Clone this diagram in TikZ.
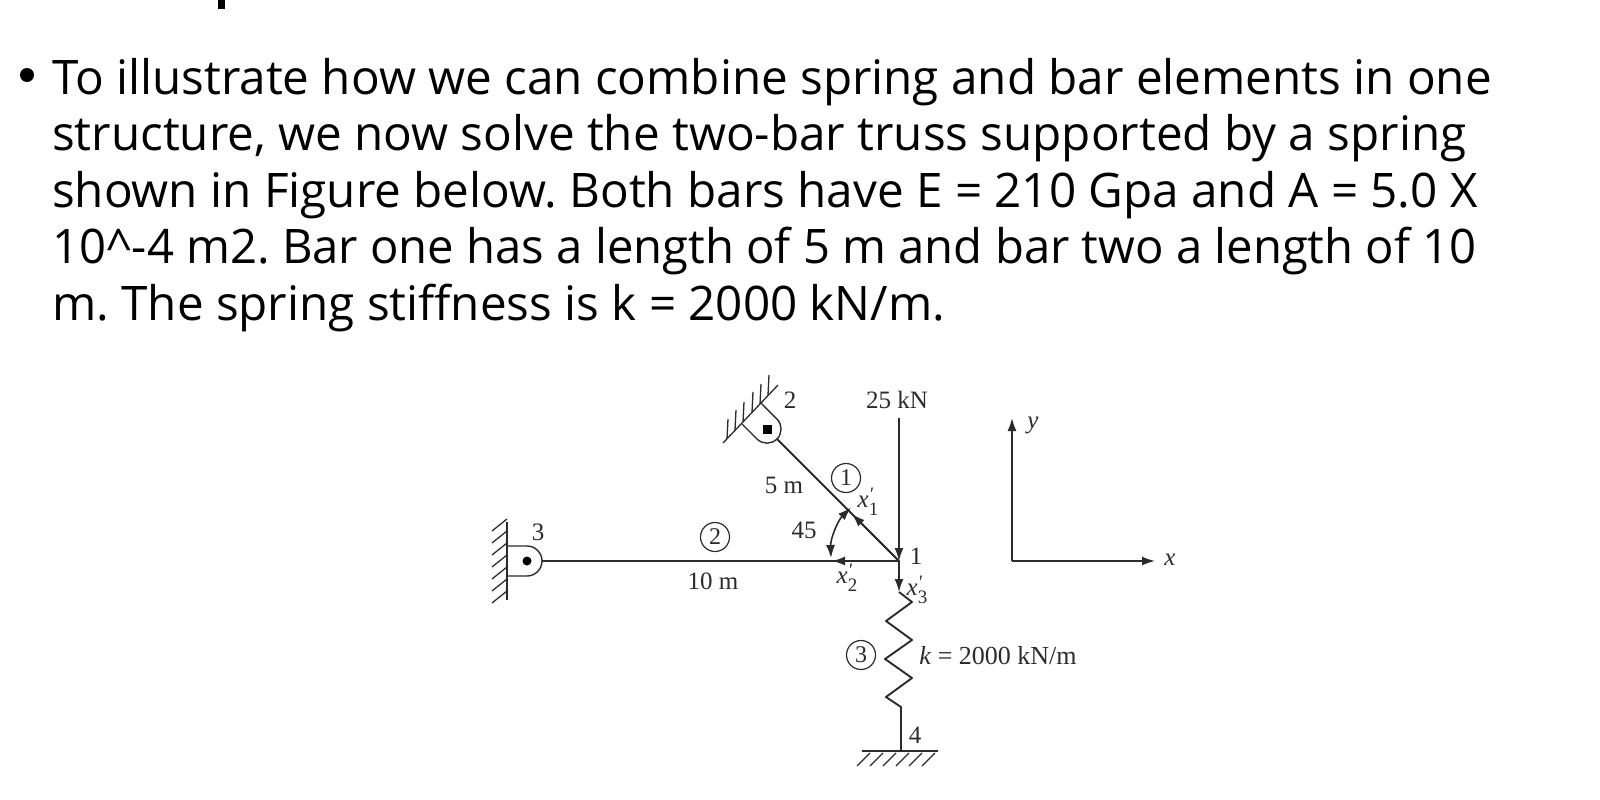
\documentclass[tikz,border=0pt]{standalone}
\usepackage{fontspec}
\usetikzlibrary{arrows.meta}
\setmainfont{Liberation Serif}
\newfontfamily\bodyfont{Open Sans}
\definecolor{ink}{HTML}{2B2B2B}
\newcommand{\xprime}[1]{\textit{x}\rlap{\smash{\raisebox{.3em}{\fontsize{19}{20}\selectfont\textit{\textquotesingle}}}}\smash{\raisebox{-.3em}{\fontsize{19}{20}\selectfont #1}}}
\tikzset{
 x=1pt,y=-1pt,
 bodyline/.style={anchor=base west,inner sep=0,font=\bodyfont\fontsize{47.6}{50}\selectfont\frenchspacing,text=black},
 lab/.style={inner sep=0,font=\fontsize{25}{28}\selectfont,text=ink},
 tiny lab/.style={inner sep=0,font=\fontsize{25}{25}\selectfont,text=ink,text height=9pt,text depth=0pt},
 mem/.style={line width=1.9pt,draw=ink},
 thin member/.style={line width=1.4pt,draw=ink},
 hatch/.style={line width=1.3pt,draw=ink},
 load/.style={line width=1.6pt,draw=ink,-{Latex[length=13pt,width=9pt]}},
 both load/.style={line width=1.6pt,draw=ink,{Latex[length=13pt,width=9pt]}-{Latex[length=13pt,width=9pt]}},
 circ/.style={circle,draw=ink,line width=1.2pt,inner sep=0,minimum size=29pt,font=\fontsize{24}{26}\selectfont,text=ink},
}
\begin{document}
\begin{tikzpicture}
\useasboundingbox (0,0) rectangle (1600,800);
\fill[black] (218,0) rectangle (225,9);
\fill[black] (27,75) circle (7);
\node[bodyline] (l1) at (52,94) {To illustrate how we can combine spring and bar elements in one};
\node[bodyline] (l2) at (52,150.5) {structure, we now solve the two-bar truss supported by a spring};
\node[bodyline] (l3) at (52,207) {shown in Figure below. Both bars have E = 210 Gpa and A = 5.0 X};
\node[bodyline,xscale=.992,transform shape] (l4) at (52,263.5) {10\^{}-4 m2. Bar one has a length of 5 m and bar two a length of 10};
\node[bodyline] (l5) at (52,320) {m. The spring stiffness is k = 2000 kN/m.};
% joints
\coordinate (n1) at (899,561);
\coordinate (n2) at (777,439);
\coordinate (n3) at (542,561);
\coordinate (n4) at (901,751);
% bars
\draw[mem] (n2) -- (n1);
\draw[mem] (n3) -- (n1);
% support 2
\draw[hatch] (723,443) -- (778,385);
\foreach \a/\b in {727/439,735/430,743/422,752/412,760/404,768/395}
  \draw[hatch] (\a,\b) -- ++(1,-20);
\draw[thin member] (742,424) -- (757,439) arc[start angle=135,end angle=-45,radius=14.1] -- (761,403);
\fill[black] (762.5,425) rectangle (771.5,434);
% support 3
\draw[hatch] (507,522) -- (507,600);
\foreach \b in {526,538,550,562,574,586,598}
  \draw[hatch] (507,\b-7) -- ++(-15,12);
\draw[thin member] (507,546) -- (527,546) arc[start angle=-90,end angle=90,radius=15] -- (507,576);
\fill[black] (527,561) circle (4.5);
% spring and ground
\coordinate (s0) at (899,592);
\draw[mem,line join=round] (s0) -- (912,602) -- (886,621) -- (912,640) -- (885,659) -- (912,678) -- (886,697) -- (901,707) -- (n4);
\draw[mem] (862,751) -- (938,751);
\foreach \a in {873,886,899,912,925,938}
  \draw[hatch] (\a-3,753) -- ++(-13,13);
% loads
\coordinate (f0) at (899,418);
\draw[load] (f0) -- (n1);
\draw[load] (n1) -- (s0);
\coordinate (t2) at (832,561);
\draw[load] (n1) -- (t2);
\coordinate (t1) at (852,514);
\draw[load] (n1) -- (t1);
\draw[both load] (831,558) arc[start angle=178,end angle=225,radius=68];
% axes
\coordinate (o) at (1012,561);
\coordinate (ya) at (1012,418);
\coordinate (xa) at (1155,561);
\draw[load] (o) -- (ya);
\draw[load] (o) -- (xa);
% labels
\node[lab] (L2) at (790,400) {2};
\node[lab] (F) at (897,400) {25 kN};
\node[lab] (Lm5) at (784,485) {5 m};
\node[lab] (La) at (804,530) {45};
\node[lab] (Lm10) at (713,581) {10 m};
\node[lab] (L3) at (538,532) {3};
\node[lab] (L1) at (916,556) {1};
\node[lab] (L4) at (915,735) {4};
\node[lab,font=\fontsize{26}{28}\selectfont] (K) at (998,656) {\textit{k} = 2000 kN/m};
\node[tiny lab] (Lx1) at (868,503) {\xprime{1}};
\node[tiny lab] (Lx2) at (847,579) {\xprime{2}};
\node[tiny lab] (Lx3) at (917,591) {\xprime{3}};
\node[lab] (Ly) at (1033,425) {\textit{y}};
\node[lab] (Lx) at (1170,560) {\textit{x}};
\node[circ] (c1) at (846,478) {1};
\node[circ] (c2) at (715,537) {2};
\node[circ] (c3) at (861,655) {3};
\end{tikzpicture}
\end{document}
